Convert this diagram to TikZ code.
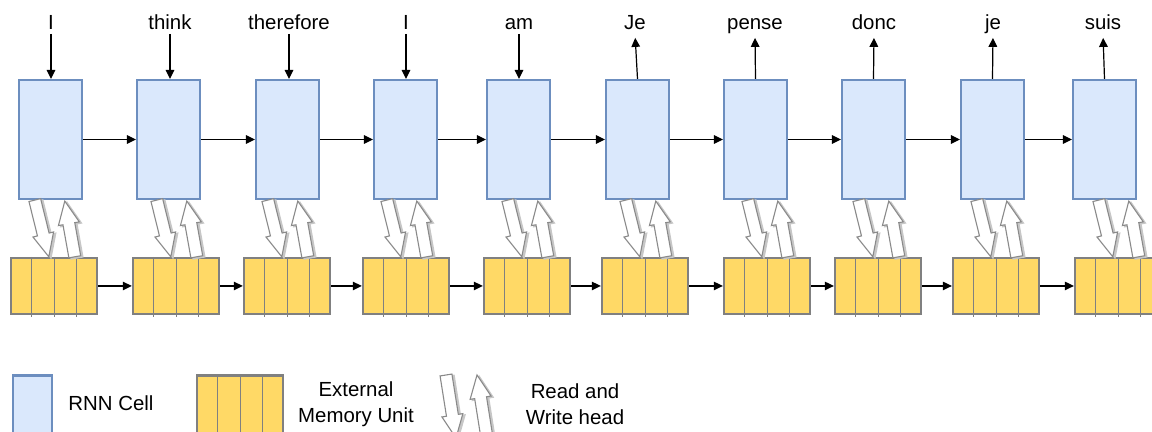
\documentclass[tikz,border=0pt]{standalone}
\usepackage{fontspec}
\setmainfont{Liberation Sans}
\usetikzlibrary{calc,arrows.meta}

\definecolor{cellfill}{HTML}{DAE8FC}
\definecolor{celldraw}{HTML}{6C8EBF}
\definecolor{memfill}{HTML}{FFD966}
\definecolor{memdraw}{HTML}{808080}
\definecolor{headdraw}{HTML}{8A8A8A}

\tikzset{
  cell/.style={draw=celldraw, fill=cellfill, line width=1.1pt,
    minimum width=31.5pt, minimum height=59.5pt, inner sep=0pt},
  memunit/.style={draw=memdraw, fill=memfill, line width=1.2pt,
    minimum width=43pt, minimum height=28pt, inner sep=0pt},
  divider/.style={draw=memdraw, line width=0.5pt},
  word/.style={font=\fontsize{10.2}{12}\selectfont, inner sep=0pt,
    text height=7.4pt, text depth=2pt, anchor=base},
  flow/.style={draw=black, line width=0.6pt,
    -{Triangle[length=4.5pt,width=4.3pt]}},
  headshape/.style={draw=headdraw, fill=white, line width=0.55pt,
    preaction={fill=black!22, draw=black!22, line width=0.6pt,
      transform canvas={xshift=1.1pt,yshift=-0.6pt}}},
  legendtext/.style={font=\fontsize{10.2}{13}\selectfont, align=center,
    inner sep=0pt},
}

% read/write head: a hollow block arrow from #1 to #2
\newcommand\rwhead[2]{%
  \coordinate (rw-neck) at ($(#2)!11.5pt!(#1)$);
  \draw[headshape] ($(#1)!3pt!90:(#2)$) -- ($(rw-neck)!3pt!90:(#2)$)
    -- ($(rw-neck)!5.3pt!90:(#2)$) -- (#2)
    -- ($(rw-neck)!5.3pt!-90:(#2)$) -- ($(rw-neck)!3pt!-90:(#2)$)
    -- ($(#1)!3pt!-90:(#2)$) -- cycle;}

% the four slots of a memory unit
\newcommand\memslots[1]{%
  \foreach \k in {1,2,3}{
    \draw[divider] ($(#1.north west)!\k/4!(#1.north east)$)
      -- ($(#1.south west)!\k/4!(#1.south east)+(0,2)$);
  }}

\begin{document}
\begin{tikzpicture}[x=0.5pt, y=-0.5pt]
  \useasboundingbox (0,0) rectangle (1152,432);
  \clip (0,0) rectangle (1152,432);

  % RNN cells and their memory units
  \foreach \i/\cx/\mx in {1/50.5/54, 2/168.5/176, 3/287.5/287, 4/405.5/406,
      5/518.5/527, 6/637.5/645, 7/755.5/767, 8/873.5/878, 9/992.5/996,
      10/1104.5/1118}{
    \node[cell] (c\i) at (\cx,139.5) {};
    \node[memunit] (m\i) at (\mx,286) {};
    \memslots{m\i}
  }

  % recurrent links
  \foreach \i in {1,...,9}{
    \pgfmathtruncatemacro\j{\i+1}
    \draw[flow] (c\i) -- (c\j);
    \draw[flow] (m\i) -- (m\j);
  }

  % input words
  \foreach \i/\lx/\w in {1/51/I, 2/170/think, 3/289/therefore, 4/406/I,
      5/519/am}{
    \node[word] (w\i) at (\lx,29.5) {\w};
    \draw[flow] (w\i.south) -- (w\i.south |- c\i.north);
  }

  % output words
  \foreach \i/\lx/\w in {6/635/Je, 7/755/pense, 8/874/donc, 9/993/je,
      10/1103/suis}{
    \node[word] (w\i) at (\lx,29.5) {\w};
    \draw[flow, shorten >=2pt] (c\i.north) -- (w\i.south);
  }

  % read and write heads
  \foreach \i in {1,...,10}{
    \coordinate (rd-a\i) at ($(m\i.north west |- c\i.south)+(25,0)$);
    \coordinate (rd-b\i) at ($(m\i.north west)+(39,0)$);
    \coordinate (wr-a\i) at ($(m\i.north west)+(65,0)$);
    \coordinate (wr-b\i) at ($(m\i.north west |- c\i.south)+(55,1)$);
    \rwhead{rd-a\i}{rd-b\i}
    \rwhead{wr-a\i}{wr-b\i}
  }

  % legend
  \node[cell, minimum width=19.5pt, minimum height=30pt] (lg-cell)
    at (32.5,405.5) {};
  \node[legendtext] (lg-cell-t) at (111,403) {RNN Cell};

  \node[memunit, minimum height=30pt] (lg-mem) at (240,405.5) {};
  \memslots{lg-mem}
  \node[legendtext] (lg-mem-t) at (356,404.5) {External\\Memory Unit};

  \coordinate (lg-rd-a) at (446,375);
  \coordinate (lg-rd-b) at (456,438);
  \coordinate (lg-wr-a) at (487,438);
  \coordinate (lg-wr-b) at (477,375);
  \rwhead{lg-rd-a}{lg-rd-b}
  \rwhead{lg-wr-a}{lg-wr-b}
  \node[legendtext] (lg-head-t) at (575,404.5) {Read and\\Write head};
\end{tikzpicture}
\end{document}
